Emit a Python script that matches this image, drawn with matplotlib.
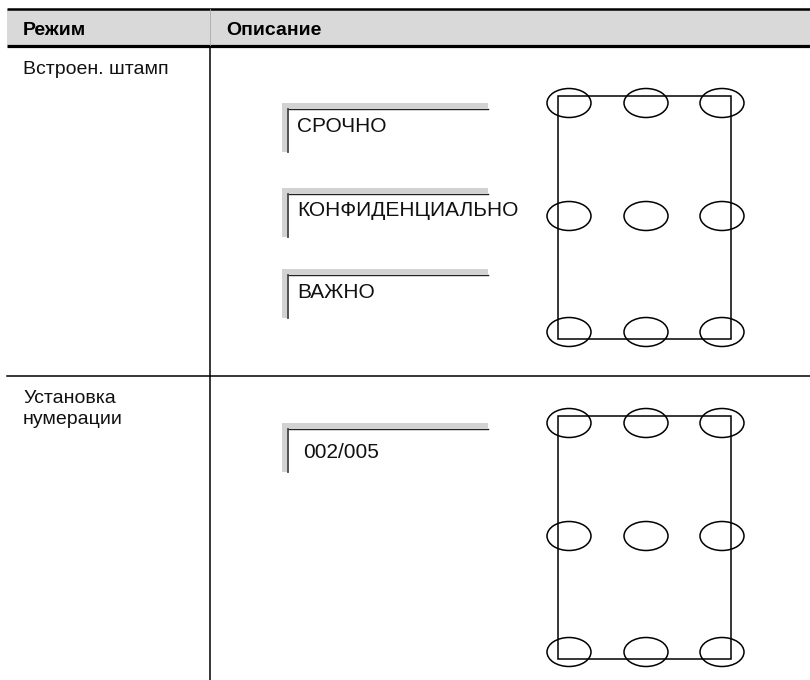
import matplotlib
matplotlib.use('Agg')
import matplotlib.pyplot as plt
import matplotlib.patches as patches

plt.rcParams['font.family'] = ['Liberation Sans', 'DejaVu Sans']

# данные таблицы
headers = ['Режим', 'Описание']
modes = ['Встроен. штамп', 'Установка\nнумерации']
stamp_texts = ['СРОЧНО', 'КОНФИДЕНЦИАЛЬНО', 'ВАЖНО']
numbering_texts = ['002/005']
grid_cols = [0, 1, 2]
grid_rows = [0, 1, 2]

W, H = 810, 680
fig = plt.figure(figsize=(W / 100, H / 100), dpi=100)
ax = fig.add_axes([0, 0, 1, 1])
ax.set_xlim(0, W)
ax.set_ylim(H, 0)
ax.axis('off')

LEFT, RIGHT, DIV = 7, 810, 210

# ===== шапка =====
ax.add_patch(patches.Rectangle((LEFT, 9), RIGHT - LEFT, 36, facecolor='#d9d9d9', edgecolor='none'))
ax.plot([LEFT, RIGHT], [9, 9], color='black', lw=1.8, solid_capstyle='butt')
ax.plot([LEFT, RIGHT], [45.5, 45.5], color='black', lw=2.3, solid_capstyle='butt')
ax.plot([DIV, DIV], [9, 45], color='#aaaaaa', lw=0.6)
ax.text(23, 35, headers[0], fontsize=14, fontweight='bold', va='baseline')
ax.text(226, 35, headers[1], fontsize=14, fontweight='bold', va='baseline')

# ===== сетка строк =====
ax.plot([DIV, DIV], [47, H], color='black', lw=1.1)
ax.plot([LEFT, RIGHT], [376, 376], color='black', lw=1.1)

row_baselines = [74, 403]
for label, yb in zip(modes, row_baselines):
    for i, line in enumerate(label.split('\n')):
        ax.text(23, yb + i * 21, line, fontsize=14, va='baseline', color='#111111')


def draw_stamp(top, text, tx, tb):
    # серая «полка» и тёмная линия внутри
    ax.add_patch(patches.Rectangle((282, top), 206, 4.5, facecolor='#d2d2d2', edgecolor='none'))
    ax.add_patch(patches.Rectangle((282, top), 5, 49, facecolor='#d2d2d2', edgecolor='none'))
    ax.plot([287.5, 488], [top + 5.5, top + 5.5], color='#222222', lw=1.0)
    ax.plot([287.5, 287.5], [top + 5.5, top + 49], color='#444444', lw=1.3)
    ax.text(tx, tb, text, fontsize=15, va='baseline', color='#111111')


stamp_tops = [103, 188, 269]
stamp_baselines = [132, 216, 298]
for top, txt, tb in zip(stamp_tops, stamp_texts, stamp_baselines):
    draw_stamp(top, txt, 297, tb)

for txt in numbering_texts:
    draw_stamp(423, txt, 303, 458)


def draw_page(top):
    ax.add_patch(patches.Rectangle((558, top), 173, 243, fill=False, edgecolor='black', lw=1.1))
    xs = [569, 646, 722]
    ys = [top + 7, top + 120, top + 236]
    for r in grid_rows:
        for c in grid_cols:
            ax.add_patch(patches.Ellipse((xs[c], ys[r]), 44, 29, fill=False, edgecolor='black', lw=1.1))


draw_page(96)
draw_page(416)

fig.savefig('out.png', dpi=100)
